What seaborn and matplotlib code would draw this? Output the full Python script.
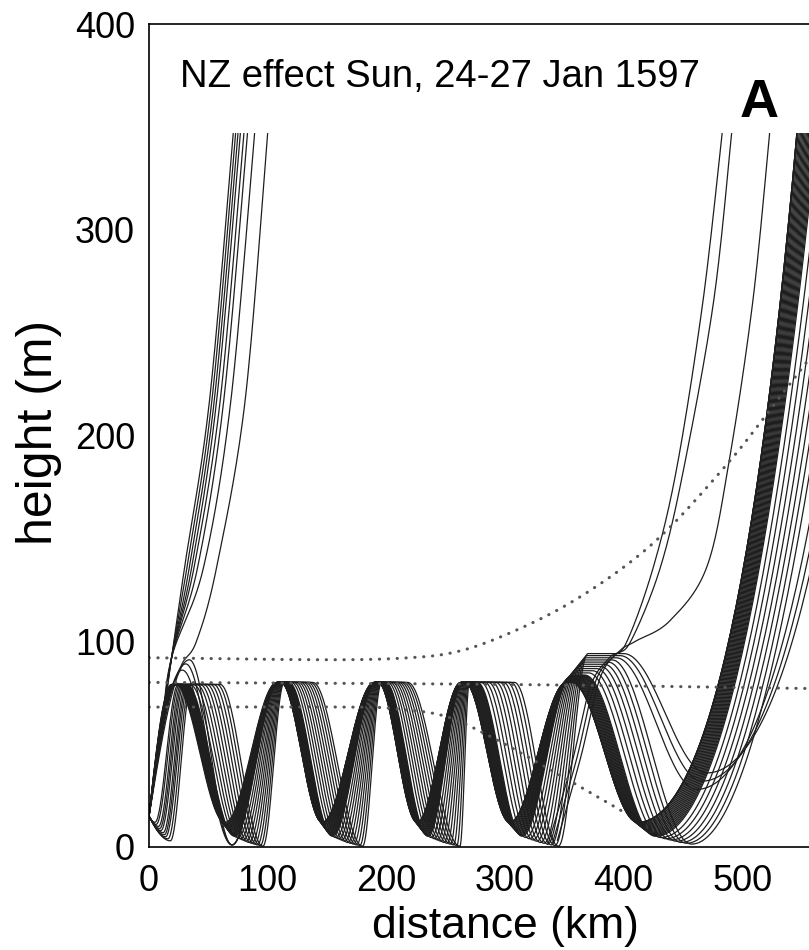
import numpy as np
import matplotlib
matplotlib.use("Agg")
import matplotlib.pyplot as plt
import seaborn as sns

# --------------------------
# Data (distance in km, height in m)
# --------------------------
source_height = 15

# ducted ray bundle: relative position of each ray inside the bundle (0 = leading ray)
ray_frac = [0.0, 0.015, 0.03, 0.045, 0.06, 0.075, 0.09, 0.105, 0.12, 0.135,
            0.15, 0.165, 0.18, 0.195, 0.21, 0.225, 0.24, 0.255,
            0.33, 0.405, 0.48, 0.555, 0.63, 0.705, 0.78, 0.855, 0.93, 1.0]
trough_height = [12, 11.6, 11.2, 10.8, 10.4, 10, 9.6, 9.2, 8.8, 8.4,
                 8, 7.6, 7.2, 6.8, 6.4, 6, 5.6, 5.2,
                 4.6, 4, 3.4, 2.8, 2.2, 1.8, 1.4, 1, 0.7, 0.4]
# rays launched downwards dip first (index into ray list, dip x, dip height)
dip_rays = [18, 19, 20, 21, 22, 23, 24, 25, 26, 27]
dip_x = [5, 6, 8, 9, 10, 12, 13, 14, 16, 18]
dip_height = [12, 11, 10, 9, 8, 7, 6, 5, 4, 3]

# per duct cycle: (leading ray, trailing ray) positions
crest_on = [(19, 36), (108, 114), (190, 196), (263, 270), (352, 370)]
crest_off = [(22, 60), (111, 138), (193, 218), (266, 308), (356, 400)]
trough_x = [(64, 96), (146, 180), (226, 262), (304, 345), (412, 470)]
crest_height = [79, 80, 80, 80]
last_crest_height = (80, 94)
last_trough_high = [28, 32, 36]          # trailing rays bottom out higher after last crest
escape_x96 = (487, 540)                  # distance where the escaping bundle passes 96 m
escape_top = (546, 612)                  # distance where it reaches the top of the plot

# rays escaping straight from the source (waypoints)
near_escape_top = [71, 73, 75, 77, 80, 83, 89, 100]
near_escape_217 = [51, 53, 55, 57, 60, 63, 69, 81]
near_escape_136 = [30, 32, 34, 36, 38, 41, 46, 57]

# rays that bounce once high above the duct near the source
hook_crest_x = [28, 31, 34]
hook_crest_h = [86, 89, 91]

# rays escaping from the fifth crest
late_escape = [
    [(336, 1), (356, 40), (372, 78), (388, 92), (402, 99), (425, 136), (445, 185), (467, 266), (483, 347)],
    [(340, 2), (360, 42), (376, 80), (392, 93), (406, 100), (431, 136), (451, 185), (476, 266), (491, 347)],
    [(344, 3), (364, 44), (380, 82), (396, 95), (410, 100), (439, 110), (470, 136), (489, 188), (509, 266), (523, 347)],
]

# dotted reference curves
dot_top = [(0, 92), (150, 91), (220, 92), (260, 95), (300, 103), (350, 117), (400, 136),
           (440, 156), (490, 188), (520, 210), (560, 240)]
dot_mid = [(0, 80), (300, 79), (560, 77)]
dot_low = [(0, 68), (170, 68), (210, 67), (250, 63.5), (290, 53), (340, 37), (403, 16)]

top_cut = 347


def catmull(pts, n=30):
    p = np.asarray(pts, float)
    p = np.vstack([p[0], p, p[-1]])
    out = []
    t = np.linspace(0, 1, n)[:, None]
    for i in range(1, len(p) - 2):
        p0, p1, p2, p3 = p[i - 1], p[i], p[i + 1], p[i + 2]
        seg = 0.5 * ((2 * p1) + (-p0 + p2) * t + (2 * p0 - 5 * p1 + 4 * p2 - p3) * t ** 2
                     + (-p0 + 3 * p1 - 3 * p2 + p3) * t ** 3)
        out.append(seg)
    out = np.vstack(out)
    return out[:, 0], out[:, 1]


def cos_seg(x0, y0, x1, y1, n=40):
    t = np.linspace(0, 1, n)
    return x0 + (x1 - x0) * t, y0 + (y1 - y0) * (1 - np.cos(np.pi * t)) / 2


def launch_seg(x0, y0, x1, y1, n=30):
    t = np.linspace(0, 1, n)
    return x0 + (x1 - x0) * t, y0 + (y1 - y0) * np.sin(np.pi / 2 * t)


def escape_seg(p0, x_mid, y_mid, x_top, y_top, n=60):
    # quadratic Bezier leaving a trough horizontally and passing through the mid point
    x0, y0 = p0
    tm = np.sqrt((y_mid - y0) / (y_top - y0))
    xc = (x_mid - (1 - tm) ** 2 * x0 - tm ** 2 * x_top) / (2 * tm * (1 - tm))
    t = np.linspace(0, 1, n)
    xs = (1 - t) ** 2 * x0 + 2 * t * (1 - t) * xc + t ** 2 * x_top
    ys = y0 + (y_top - y0) * t ** 2
    return xs, ys


def lerp(rng, f):
    return rng[0] + (rng[1] - rng[0]) * f


def duct_ray(i):
    f = ray_frac[i]
    xs, ys = [], []
    x_prev, y_prev = 0.0, source_height
    if i in dip_rays:
        k = dip_rays.index(i)
        a, b = launch_seg(0, source_height, dip_x[k], dip_height[k])
        xs.append(a); ys.append(b)
        x_prev, y_prev = dip_x[k], dip_height[k]
        first_up = cos_seg
    else:
        first_up = launch_seg
    for c in range(5):
        h = crest_height[c] if c < 4 else lerp(last_crest_height, f)
        x_on, x_off, x_tr = lerp(crest_on[c], f), lerp(crest_off[c], f), lerp(trough_x[c], f)
        up = first_up if c == 0 else cos_seg
        a, b = up(x_prev, y_prev, x_on, h)
        xs.append(a); ys.append(b)
        xs.append(np.array([x_on, x_off])); ys.append(np.array([h, h]))
        y_tr = trough_height[i]
        if c == 4 and i >= len(ray_frac) - 3:
            y_tr = last_trough_high[i - (len(ray_frac) - 3)]
        a, b = cos_seg(x_off, h, x_tr, y_tr)
        xs.append(a); ys.append(b)
        x_prev, y_prev = x_tr, y_tr
    a, b = escape_seg((x_prev, y_prev), lerp(escape_x96, f), 96, lerp(escape_top, f), top_cut)
    xs.append(a); ys.append(b)
    return np.concatenate(xs), np.concatenate(ys)


# --------------------------
# Plot
# --------------------------
sns.set_theme(style="white")
plt.rcParams['font.family'] = ['Liberation Sans', 'DejaVu Sans']
plt.rcParams['text.color'] = 'black'
plt.rcParams['axes.labelcolor'] = 'black'

fig = plt.figure(figsize=(8.09, 9.5), dpi=100)
ax = fig.add_axes([149 / 809, 103 / 950, 712 / 809, 823 / 950])

ray_kw = dict(color='#1e1e1e', lw=0.9, solid_capstyle='butt')
for i in range(len(ray_frac)):
    x, y = duct_ray(i)
    sns.lineplot(x=x, y=y, ax=ax, sort=False, estimator=None, **ray_kw)

# hook rays: bounce high near the source then follow the leading ray
lead_x, lead_y = duct_ray(0)
for cx, ch in zip(hook_crest_x, hook_crest_h):
    a, b = launch_seg(0, source_height, cx, ch)
    c, d = cos_seg(cx, ch, 70, 1)
    e, g = cos_seg(70, 1, crest_on[1][0], crest_height[1])
    keep = lead_x > crest_on[1][0]
    x = np.concatenate([a, c, e, lead_x[keep]])
    y = np.concatenate([b, d, g, lead_y[keep]])
    sns.lineplot(x=x, y=y, ax=ax, sort=False, estimator=None, **ray_kw)

# rays escaping near the source
for k in range(len(near_escape_top)):
    if k < len(near_escape_top) - 1:
        pts = [(0, source_height), (10, 55), (19, 92), (near_escape_136[k], 136),
               (near_escape_217[k], 217), (near_escape_top[k], top_cut)]
    else:
        pts = [(0, source_height), (14, 65), (27, 88), (40, 100), (near_escape_136[k], 136),
               (near_escape_217[k], 217), (near_escape_top[k], top_cut)]
    x, y = catmull(pts)
    sns.lineplot(x=x, y=y, ax=ax, sort=False, estimator=None, **ray_kw)

for pts in late_escape:
    x, y = catmull(pts)
    sns.lineplot(x=x, y=y, ax=ax, sort=False, estimator=None, **ray_kw)

# dotted curves
for pts in (dot_top, dot_mid, dot_low):
    x, y = catmull(pts, n=60)
    ax.plot(x, y, color='#555555', lw=2.2, linestyle=(0, (0.1, 2.8)), dash_capstyle='round')

ax.set_xlim(0, 600)
ax.set_ylim(0, 400)
ax.set_xticks([0, 100, 200, 300, 400, 500])
ax.set_yticks([0, 100, 200, 300, 400])
ax.tick_params(direction='in', length=9, width=1.2, labelsize=26,
               colors='black', labelcolor='black')
ax.tick_params(axis='x', pad=12)
ax.tick_params(axis='y', pad=10)
for s in ax.spines.values():
    s.set_color('black')
    s.set_linewidth(1.2)
ax.set_xlabel('distance (km)', fontsize=32, labelpad=5, color='black')
ax.set_ylabel('height (m)', fontsize=36, color='black')
ax.yaxis.set_label_coords(-0.122, 0.504)

fig.text(180 / 809, 1 - 87 / 950, 'NZ effect Sun, 24-27 Jan 1597', fontsize=27.5,
         va='baseline', ha='left', color='black')
fig.text(740 / 809, 1 - 117 / 950, 'A', fontsize=39, fontweight='bold',
         va='baseline', ha='left', color='black')

fig.savefig('out.png', dpi=100)
